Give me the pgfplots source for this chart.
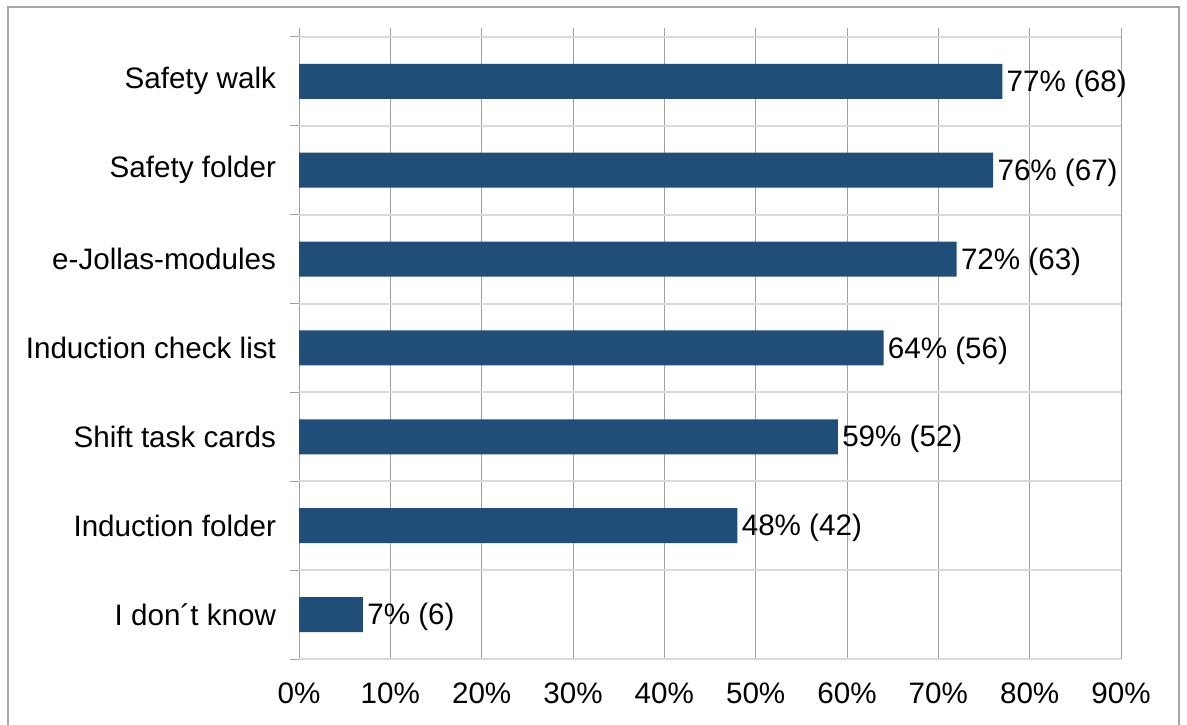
\documentclass[border=0pt]{standalone}
\usepackage{fontspec}
\setmainfont{Liberation Sans}
\usepackage{pgfplots}
\pgfplotsset{compat=1.18}
\definecolor{barblue}{HTML}{204E78}
\definecolor{gridgray}{HTML}{A0A0A0}
\definecolor{lightgridgray}{HTML}{DADADA}
\definecolor{framegray}{HTML}{A6A6A6}
\begin{document}
\begin{tikzpicture}
\useasboundingbox (0,0) rectangle (593.5pt,362pt);
\draw[framegray, line width=1pt] (4pt,-5pt) -- (4pt,358.5pt) -- (589.5pt,358.5pt) -- (589.5pt,-5pt);
\begin{axis}[
  at={(149.5pt,32.5pt)}, anchor=south west,
  scale only axis,
  width=411pt, height=315.5pt,
  xmin=0, xmax=90,
  ymin=-0.5, ymax=6.6,
  xbar, bar width=17.5pt,
  axis line style={draw=none},
  xtick={0,10,...,90},
  xticklabels={0\%,10\%,20\%,30\%,40\%,50\%,60\%,70\%,80\%,90\%},
  xmajorgrids,
  major grid style={gridgray, line width=0.5pt},
  ytick={0,...,6},
  yticklabels={I don´t know,Induction folder,Shift task cards,Induction check list,e-Jollas-modules,Safety folder,Safety walk},
  minor ytick={-0.5,0.5,...,6.5},
  yminorgrids,
  minor grid style={lightgridgray, line width=1pt},
  tick align=outside,
  major tick length=0pt,
  minor tick length=4.5pt,
  minor tick style={gridgray, line width=0.5pt},
  ytick pos=left, xtick pos=bottom,
  tick label style={font=\fontsize{14.8}{17}\selectfont},
  xticklabel style={yshift=-8.5pt},
  yticklabel style={xshift=-8pt},
  nodes near coords,
  point meta=explicit symbolic,
  nodes near coords style={font=\fontsize{14.8}{17}\selectfont, anchor=west, inner sep=0pt, xshift=2pt, yshift=-1.2pt},
]
\addplot[fill=barblue, draw=none] coordinates {
  (7,0) [7\% (6)]
  (48,1) [48\% (42)]
  (59,2) [59\% (52)]
  (64,3) [64\% (56)]
  (72,4) [72\% (63)]
  (76,5) [76\% (67)]
  (77,6) [77\% (68)]
};
\end{axis}
\end{tikzpicture}
\end{document}
